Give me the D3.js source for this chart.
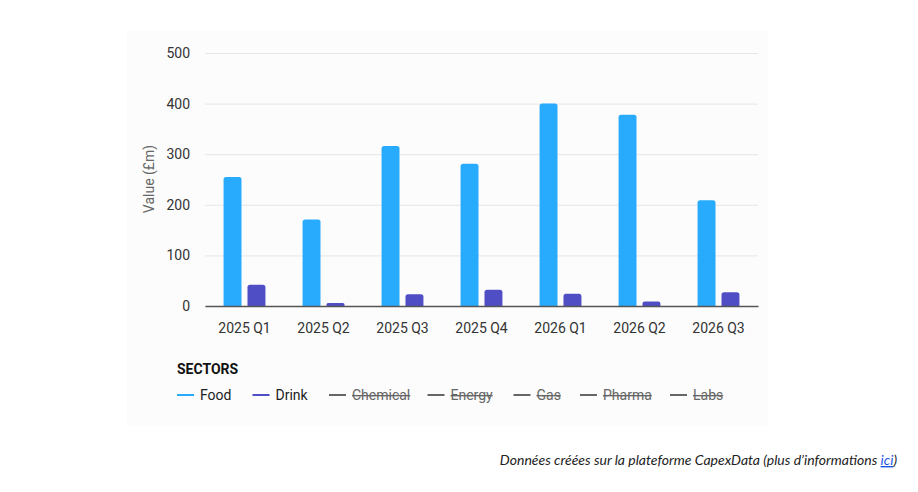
<!DOCTYPE html>
<html>
<head>
<meta charset="utf-8">
<script src="https://cdn.jsdelivr.net/npm/d3@7"></script>
<style>
  body { margin: 0; background: #fff; }
  svg { display: block; font-family: Roboto, "Noto Sans", sans-serif; }
</style>
</head>
<body>
<svg id="chart" width="918" height="492"></svg>
<script>
// Chart data.
const quarters = ['2025 Q1', '2025 Q2', '2025 Q3', '2025 Q4', '2026 Q1', '2026 Q2', '2026 Q3'];
const foodValues = [255, 171, 316, 281, 400, 378, 209];
const drinkValues = [42, 6, 23, 32, 24, 9, 27];
const yTicks = [0, 100, 200, 300, 400, 500];
const activeSectors = ['Food', 'Drink'];
const hiddenSectors = ['Chemical', 'Energy', 'Gas', 'Pharma', 'Labs'];

const colours = { Food: '#29abfd', Drink: '#4f4ec4' };
const series = [
    { name: 'Food', values: foodValues },
    { name: 'Drink', values: drinkValues }
];

const svg = d3.select('#chart');

// Light panel behind the chart.
svg.append('rect')
    .attr('x', 127).attr('y', 31)
    .attr('width', 641).attr('height', 395)
    .attr('fill', '#fcfcfc');

const margin = { left: 205, right: 758, top: 53, bottom: 306 };

const x0 = d3.scaleBand()
    .domain(quarters)
    .range([margin.left, margin.right])
    .paddingInner(0.47)
    .paddingOuter(0.235);

const x1 = d3.scaleBand()
    .domain(series.map(s => s.name))
    .range([0, x0.bandwidth()])
    .paddingInner(0.25);

const y = d3.scaleLinear()
    .domain([0, 500])
    .range([margin.bottom, margin.top]);

// Gridlines and y tick labels.
const yAxis = svg.append('g')
    .attr('transform', 'translate(' + margin.left + ',0)')
    .call(d3.axisLeft(y).tickValues(yTicks).tickSize(-(margin.right - margin.left)).tickPadding(15));
yAxis.select('.domain').remove();
yAxis.selectAll('.tick line').attr('stroke', '#e6e6e6').attr('stroke-width', 1);
yAxis.selectAll('.tick text')
    .attr('font-size', 14).attr('fill', '#333')
    .attr('font-family', 'Roboto, sans-serif');

// Bars
const groups = svg.append('g').selectAll('g')
    .data(quarters)
    .join('g')
    .attr('transform', d => 'translate(' + x0(d) + ',0)');

groups.selectAll('path')
    .data((q, i) => series.map(s => ({ name: s.name, value: s.values[i] })))
    .join('path')
    .attr('fill', d => colours[d.name])
    .attr('d', d => {
        const bx = x1(d.name), w = x1.bandwidth();
        const top = y(d.value), bottom = y(0);
        const r = Math.min(2.5, (bottom - top) / 2);
        return 'M' + bx + ',' + bottom
            + 'V' + (top + r)
            + 'Q' + bx + ',' + top + ' ' + (bx + r) + ',' + top
            + 'H' + (bx + w - r)
            + 'Q' + (bx + w) + ',' + top + ' ' + (bx + w) + ',' + (top + r)
            + 'V' + bottom + 'Z';
    });

// x axis
const xAxis = svg.append('g')
    .attr('transform', 'translate(0,' + margin.bottom + ')')
    .call(d3.axisBottom(x0).tickSize(0).tickPadding(17));
xAxis.select('.domain').attr('stroke', '#555').attr('stroke-width', 1.3);
xAxis.selectAll('.tick text')
    .attr('font-size', 14).attr('fill', '#333')
    .attr('font-family', 'Roboto, sans-serif');

// y axis title
svg.append('text')
    .attr('transform', 'translate(154,179) rotate(-90)')
    .attr('text-anchor', 'middle')
    .attr('font-size', 14)
    .attr('fill', '#666')
    .text('Value (£m)');

// Legend
svg.append('text')
    .attr('x', 177).attr('y', 374)
    .attr('font-size', 14).attr('font-weight', 'bold')
    .attr('fill', '#111')
    .text('SECTORS');

const legendX = [177, 252.5, 329, 427.5, 513.5, 580, 670];
const legendItems = activeSectors.map(n => ({ name: n, on: true }))
    .concat(hiddenSectors.map(n => ({ name: n, on: false })));

const legend = svg.append('g').selectAll('g')
    .data(legendItems)
    .join('g')
    .attr('transform', (d, i) => 'translate(' + legendX[i] + ',395)');

legend.append('line')
    .attr('x1', 0).attr('x2', 17)
    .attr('stroke', d => d.on ? colours[d.name] : '#666')
    .attr('stroke-width', 2);

legend.append('text')
    .attr('x', 23).attr('y', 5)
    .attr('font-size', 14)
    .attr('fill', d => d.on ? '#222' : '#666')
    .attr('text-decoration', d => d.on ? null : 'line-through')
    .text(d => d.name);

// Source note
const note = svg.append('text')
    .attr('x', 897).attr('y', 465)
    .attr('text-anchor', 'end')
    .attr('font-size', 14)
    .attr('font-style', 'italic')
    .attr('font-family', 'Lato, "Open Sans", sans-serif')
    .attr('fill', '#222');
note.append('tspan').text('Données créées sur la plateforme CapexData (plus d\u2019informations ');
note.append('tspan').attr('fill', '#1a55e8').attr('text-decoration', 'underline').text('ici');
note.append('tspan').text(')');
</script>
</body>
</html>
